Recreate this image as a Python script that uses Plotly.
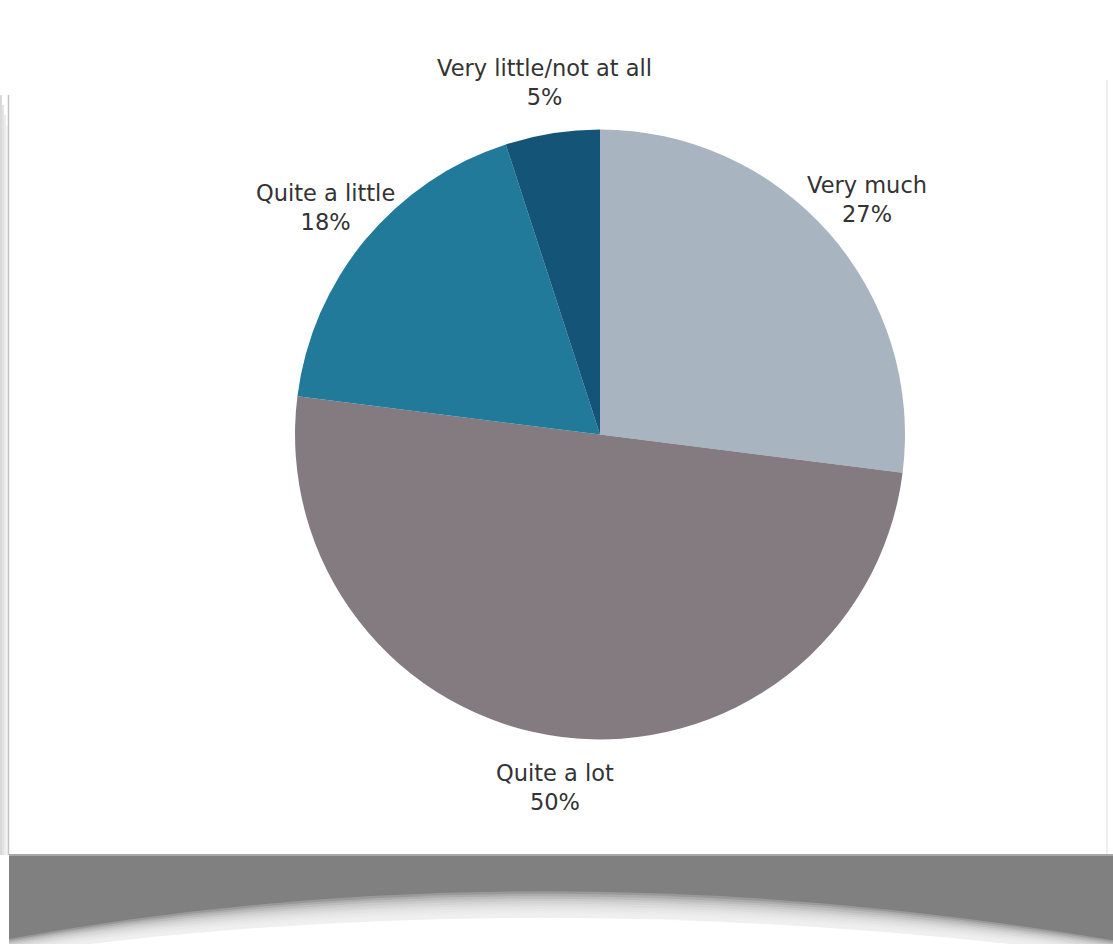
import math
import plotly.graph_objects as go

# Survey answers, clockwise from 12 o'clock
categories = ["Very much", "Quite a lot", "Quite a little", "Very little/not at all"]
shares = [27, 50, 18, 5]
slice_colors = ["#a9b4c1", "#847b80", "#217a9a", "#145577"]

W, H = 1113, 944
CX, CY, R = 600, 434.5, 305          # pie centre and radius in pixels
LABEL_R = 356                        # distance of label centres from the centre


def px(x):
    return x / W


def py(y):
    return 1 - y / H


fig = go.Figure()
fig.add_trace(go.Pie(
    labels=categories,
    values=shares,
    sort=False,
    direction="clockwise",
    rotation=0,
    marker=dict(colors=slice_colors, line=dict(width=0)),
    textinfo="none",
    hoverinfo="label+percent",
    showlegend=False,
    domain=dict(x=[px(CX - R), px(CX + R)], y=[py(CY + R), py(CY - R)]),
))

# Labels placed radially outside the middle of each slice
total = sum(shares)
cum = 0
annotations = []
for name, v in zip(categories, shares):
    mid = (cum + v / 2) / total * 2 * math.pi
    cum += v
    lx = CX + math.sin(mid) * LABEL_R
    ly = CY - math.cos(mid) * LABEL_R
    annotations.append(dict(
        x=px(lx), y=py(ly), xref="paper", yref="paper",
        text=f"{name}<br>{v}%", showarrow=False,
        xanchor="center", yanchor="middle", align="center",
        font=dict(family="DejaVu Sans, sans-serif", size=22.5, color="#333333"),
    ))

shapes = []
# soft shadow along the left edge of the card
for i, c in enumerate(["#d9d9d9", "#e3e3e3", "#ececec", "#f4f4f4"]):
    shapes.append(dict(type="rect", xref="paper", yref="paper", layer="below",
                       x0=px(2 * i), x1=px(2 * i + 2), y0=py(855), y1=py(95 + 10 * i),
                       fillcolor=c, line=dict(width=0)))
shapes.append(dict(type="line", xref="paper", yref="paper", layer="below",
                   x0=px(8.5), x1=px(8.5), y0=py(855), y1=py(95),
                   line=dict(color="#c4c4c4", width=1.5)))
# faint right edge
shapes.append(dict(type="line", xref="paper", yref="paper", layer="below",
                   x0=px(1107), x1=px(1107), y0=py(855), y1=py(80),
                   line=dict(color="#f0f0f0", width=2)))

# grey band under the card
shapes.append(dict(type="rect", xref="paper", yref="paper", layer="below",
                   x0=px(9), x1=px(W), y0=py(H), y1=py(855),
                   fillcolor="#808080", line=dict(width=0)))
shapes.append(dict(type="line", xref="paper", yref="paper", layer="below",
                   x0=px(9), x1=px(W), y0=py(855), y1=py(855),
                   line=dict(color="#a8a8a8", width=2)))


def arc_path(offset):
    # curved lower edge of the band (quadratic bezier), filled down to the bottom
    x0, y0 = 0, H + 3 - offset * 0.4
    xc, yc = 540, 856 - offset
    x1, y1 = W + 25, H + 7 - offset * 0.4
    return (f"M {px(x0)},{py(y0)} Q {px(xc)},{py(yc)} {px(x1)},{py(y1)} "
            f"L {px(x1)},{py(H + 40)} L {px(x0)},{py(H + 40)} Z")


# layered white fills give the soft fade at the bottom
for k in range(10):
    shapes.append(dict(type="path", xref="paper", yref="paper", layer="below",
                       path=arc_path(16 - k * 3.5), fillcolor="white",
                       opacity=0.2, line=dict(width=0)))
shapes.append(dict(type="path", xref="paper", yref="paper", layer="below",
                   path=arc_path(-22), fillcolor="white", line=dict(width=0)))

fig.update_layout(
    width=W, height=H,
    margin=dict(l=0, r=0, t=0, b=0),
    paper_bgcolor="white", plot_bgcolor="white",
    annotations=annotations,
    shapes=shapes,
)

fig.write_html("out.html")
